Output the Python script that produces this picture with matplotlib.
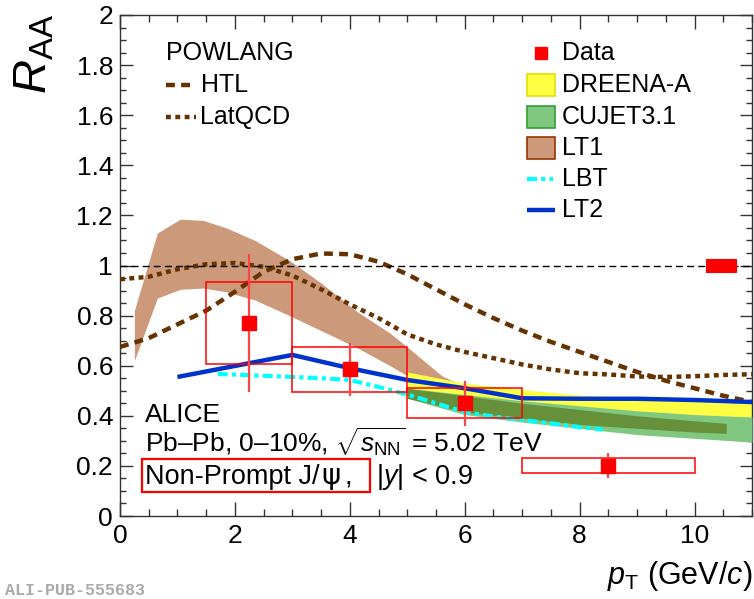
import matplotlib
matplotlib.use('Agg')
import matplotlib.pyplot as plt
from matplotlib.patches import Rectangle
from matplotlib.lines import Line2D

# measured non-prompt J/psi R_AA, 0-10% Pb-Pb
pt_data = [2.25, 4.0, 6.0, 8.5]
pt_lo = [1.5, 3.0, 5.0, 7.0]
pt_hi = [3.0, 5.0, 7.0, 10.0]
raa_data = [0.77, 0.585, 0.45, 0.20]
raa_stat = [0.275, 0.105, 0.09, 0.05]
raa_syst = [0.165, 0.09, 0.06, 0.03]
norm_pt = [10.2, 10.73]
norm_unc = 0.024

# POWLANG curves
pt_powlang = [0, 0.5, 1.0, 1.5, 2.0, 2.5, 3.0, 3.5, 4.0, 4.5, 5.0, 5.5,
              6.0, 6.5, 7.0, 7.5, 8.0, 8.5, 9.0, 9.5, 10.0, 10.5, 11.0]
raa_htl = [0.675, 0.71, 0.765, 0.82, 0.895, 0.975, 1.025, 1.048, 1.045, 1.015, 0.965, 0.905,
           0.845, 0.79, 0.74, 0.695, 0.655, 0.615, 0.575, 0.54, 0.51, 0.48, 0.455]
raa_latqcd = [0.945, 0.955, 0.985, 1.005, 1.01, 0.995, 0.96, 0.905, 0.845, 0.79, 0.725, 0.685,
              0.655, 0.63, 0.605, 0.585, 0.57, 0.565, 0.557, 0.555, 0.558, 0.563, 0.566]

# LT1 band
pt_lt1 = [0.25, 0.65, 1.05, 1.45, 1.85, 2.35, 2.95, 3.5, 4.1, 4.7, 5.0, 5.6, 6.15]
lt1_hi = [0.82, 1.13, 1.185, 1.18, 1.15, 1.10, 1.02, 0.93, 0.82, 0.73, 0.675, 0.56, 0.50]
lt1_lo = [0.62, 0.87, 0.905, 0.91, 0.895, 0.862, 0.80, 0.74, 0.675, 0.60, 0.56, 0.52, 0.48]

# DREENA-A and CUJET3.1 bands
pt_band = [5, 6, 7, 8, 9, 10, 11]
dreena_hi = [0.575, 0.53, 0.505, 0.483, 0.47, 0.462, 0.458]
dreena_lo = [0.51, 0.48, 0.455, 0.43, 0.415, 0.403, 0.395]
cujet_hi = [0.51, 0.485, 0.46, 0.44, 0.42, 0.405, 0.395]
cujet_lo = [0.47, 0.405, 0.375, 0.35, 0.325, 0.31, 0.295]
pt_inner = [5.0, 6, 7, 8, 9, 10, 10.55]
inner_hi = [0.51, 0.48, 0.45, 0.425, 0.40, 0.38, 0.37]
inner_lo = [0.47, 0.415, 0.39, 0.365, 0.35, 0.335, 0.33]

# LBT and LT2 curves
pt_lbt = [1.7, 2.5, 3.0, 3.5, 4.0, 4.5, 5.0, 5.5, 6.0, 6.5, 7.0, 7.5, 8.0, 8.4]
raa_lbt = [0.567, 0.56, 0.555, 0.55, 0.543, 0.515, 0.485, 0.45, 0.415, 0.397, 0.383, 0.37, 0.355, 0.345]
pt_lt2 = [1.0, 3.0, 4.0, 5.0, 6.0, 7.0, 8.0, 9.0, 10.0, 11.0]
raa_lt2 = [0.555, 0.643, 0.59, 0.543, 0.51, 0.47, 0.468, 0.468, 0.463, 0.455]

BROWN = '#663300'
LT1_COL = '#cc997a'
YELLOW = '#ffff44'
GREEN = '#80c880'
OLIVE = '#66913a'
CYAN = '#00ffff'
BLUE = '#0033cc'
RED = '#ff0000'

W, H = 754, 599


def fx(px):
    return px / W


def fy(py):
    return 1 - py / H


def generate_raa_plot(fname='out.png'):
    plt.rcParams['font.family'] = ['Liberation Sans', 'DejaVu Sans']
    plt.rcParams['mathtext.fontset'] = 'custom'
    plt.rcParams['mathtext.rm'] = 'Liberation Sans'
    plt.rcParams['mathtext.it'] = 'Liberation Sans:italic'
    plt.rcParams['mathtext.bf'] = 'Liberation Sans:bold'

    fig = plt.figure(figsize=(W / 100, H / 100), dpi=100)
    ax = fig.add_axes([fx(120), fy(516), (752 - 120) / W, (516 - 15) / H])

    # theory bands
    ax.fill_between(pt_lt1, lt1_lo, lt1_hi, color=LT1_COL, lw=0, zorder=1)
    ax.fill_between(pt_band, dreena_lo, dreena_hi, color=YELLOW, lw=0, zorder=2)
    ax.fill_between(pt_band, cujet_lo, cujet_hi, color=GREEN, lw=0, zorder=3)
    ax.fill_between(pt_inner, inner_lo, inner_hi, color=OLIVE, lw=0, zorder=4)

    # theory curves
    ax.plot(pt_powlang, raa_htl, color=BROWN, lw=3.2, dashes=(2.0, 1.4),
            dash_capstyle='butt', zorder=5)
    ax.plot(pt_powlang, raa_latqcd, color=BROWN, lw=3.2, dashes=(1.1, 1.0),
            dash_capstyle='butt', zorder=5)
    ax.plot(pt_lbt, raa_lbt, color=CYAN, lw=3.0, dashes=(2.4, 1.0, 1.0, 1.0),
            dash_capstyle='butt', zorder=6)
    ax.plot(pt_lt2, raa_lt2, color=BLUE, lw=3.2, solid_capstyle='butt', zorder=7)

    ax.axhline(1.0, color='black', lw=1.0, dashes=(5, 3), zorder=8)

    # data with systematic boxes and statistical bars
    for lo, hi, y, s in zip(pt_lo, pt_hi, raa_data, raa_syst):
        ax.add_patch(Rectangle((lo, y - s), hi - lo, 2 * s, fill=False,
                               edgecolor=RED, lw=1.1, zorder=9))
    ax.errorbar(pt_data, raa_data, yerr=raa_stat, fmt='none', ecolor='#ff4444',
                elinewidth=1.6, capsize=0, zorder=10)
    ax.plot(pt_data, raa_data, 's', color=RED, ms=9.5, mec=RED, zorder=11)
    ax.add_patch(Rectangle((norm_pt[0], 1 - norm_unc), norm_pt[1] - norm_pt[0],
                           2 * norm_unc, facecolor=RED, edgecolor=RED, lw=0.8, zorder=11))

    ax.set_xlim(0, 11)
    ax.set_ylim(0, 2)
    ax.set_xticks([0, 2, 4, 6, 8, 10])
    ax.set_xticks([x * 0.5 for x in range(23)], minor=True)
    ax.set_yticks([i * 0.2 for i in range(11)])
    ax.set_yticklabels(['0', '0.2', '0.4', '0.6', '0.8', '1', '1.2', '1.4', '1.6', '1.8', '2'])
    ax.set_yticks([i * 0.05 for i in range(41)], minor=True)
    ax.tick_params(which='both', direction='in', top=True, right=True, labelsize=19,
                   width=1.0, color='#333333')
    ax.tick_params(axis='x', which='major', length=10, pad=6)
    ax.tick_params(axis='x', which='minor', length=5)
    ax.tick_params(axis='y', which='major', length=9, pad=5)
    ax.tick_params(axis='y', which='minor', length=4.5)
    for sp in ax.spines.values():
        sp.set_color('#333333')
        sp.set_linewidth(1.0)

    fig.text(fx(35), fy(14), r'$R_{\rm AA}$', rotation=90, fontsize=34,
             ha='center', va='top')
    fig.text(fx(752), fy(584), r'$p_{\rm T}$ (GeV/$c$)', fontsize=22,
             ha='right', va='baseline')

    # POWLANG legend
    fs = 18
    fig.text(fx(166), fy(53), 'POWLANG', fontsize=fs, va='center')
    fig.add_artist(Line2D([fx(166), fx(190)], [fy(85), fy(85)], color=BROWN, lw=3.2,
                          dashes=(2.0, 1.4), dash_capstyle='butt'))
    fig.text(fx(201), fy(85), 'HTL', fontsize=fs, va='center')
    fig.add_artist(Line2D([fx(166), fx(196)], [fy(117), fy(117)], color=BROWN, lw=3.2,
                          dashes=(1.1, 1.0), dash_capstyle='butt'))
    fig.text(fx(200), fy(117), 'LatQCD', fontsize=fs, va='center')

    # model/data legend
    rows = [53, 85, 117, 148, 179, 210]
    tx = 562
    fig.add_artist(Line2D([fx(541)], [fy(rows[0])], marker='s', color=RED, ms=8.5, ls='none'))
    patch_styles = [(YELLOW, '#e0e000'), (GREEN, '#33a033'), (LT1_COL, '#993300')]
    for (fc, ec), ry in zip(patch_styles, rows[1:4]):
        fig.add_artist(Rectangle((fx(527), fy(ry + 11)), 28 / W, 22 / H,
                                 facecolor=fc, edgecolor=ec, lw=1.2,
                                 transform=fig.transFigure))
    fig.add_artist(Line2D([fx(527), fx(553)], [fy(rows[4]), fy(rows[4])], color=CYAN,
                          lw=3.0, dashes=(2.4, 1.0, 1.0, 1.0), dash_capstyle='butt'))
    fig.add_artist(Line2D([fx(527), fx(555)], [fy(rows[5]), fy(rows[5])], color=BLUE,
                          lw=3.2, solid_capstyle='butt'))
    for label, ry in zip(['Data', 'DREENA-A', 'CUJET3.1', 'LT1', 'LBT', 'LT2'], rows):
        fig.text(fx(tx), fy(ry), label, fontsize=fs, va='center')

    # system labels
    fig.text(fx(145), fy(422), 'ALICE', fontsize=19, va='baseline')
    fig.text(fx(145), fy(453), 'Pb–Pb, 0–10%, ' + r'$\sqrt{s_{\rm NN}}$' + ' = 5.02 TeV',
             fontsize=19, va='baseline')
    fig.text(fx(145), fy(484), 'Non-Prompt J/', fontsize=19.5, va='baseline')
    fig.text(fx(321), fy(484), 'ψ', fontsize=21, family='DejaVu Sans', va='baseline')
    fig.text(fx(345), fy(484), ',', fontsize=19.5, va='baseline')
    fig.text(fx(376), fy(484), r'$|y|$ < 0.9', fontsize=19.5, va='baseline')
    fig.add_artist(Rectangle((fx(142), fy(492)), (370 - 142) / W, (492 - 459) / H,
                             fill=False, edgecolor=RED, lw=1.6, transform=fig.transFigure))

    fig.text(fx(5), fy(595), 'ALI-PUB-555683', fontsize=12, family='Liberation Mono',
             weight='bold', color='#aaaaaa', va='baseline')

    fig.savefig(fname, dpi=100)
    plt.close(fig)


if __name__ == "__main__":
    generate_raa_plot()
